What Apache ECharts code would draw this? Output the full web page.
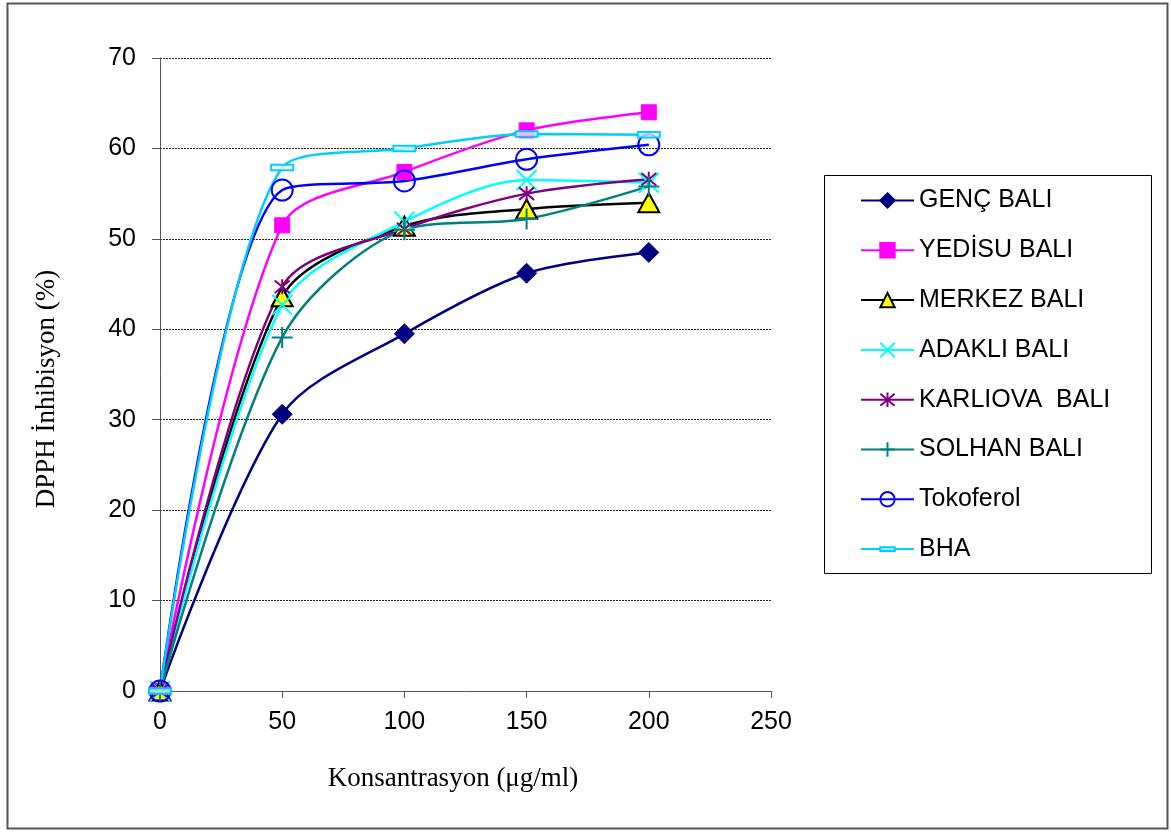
<!DOCTYPE html>
<html>
<head>
<meta charset="utf-8">
<script src="https://cdn.jsdelivr.net/npm/echarts@6/dist/echarts.min.js"></script>
<style>
html,body{margin:0;padding:0;background:#fff;}
#chart{width:1171px;height:832px;}
</style>
</head>
<body>
<div id="chart"></div>
<script>
const xValues = [0, 50, 100, 150, 200];
const seriesNames = ['GENÇ BALI', 'YEDİSU BALI', 'MERKEZ BALI', 'ADAKLI BALI', 'KARLIOVA  BALI', 'SOLHAN BALI', 'Tokoferol', 'BHA'];
const gencBali = [0, 30.6, 39.5, 46.2, 48.5];
const yedisuBali = [0, 51.5, 57.4, 62.0, 64.0];
const merkezBali = [0, 43.6, 51.4, 53.3, 54.0];
const adakliBali = [0, 42.7, 51.9, 56.5, 56.2];
const karliovaBali = [0, 44.7, 51.1, 55.0, 56.6];
const solhanBali = [0, 39.1, 51.0, 52.2, 55.8];
const tokoferol = [0, 55.4, 56.4, 58.8, 60.4];
const bha = [0, 57.9, 60.0, 61.6, 61.5];
const xTicks = [0, 50, 100, 150, 200, 250];
const yTicks = [0, 10, 20, 30, 40, 50, 60, 70];
const xTitle = 'Konsantrasyon (μg/ml)';
const yTitle = 'DPPH İnhibisyon (%)';

const allValues = [gencBali, yedisuBali, merkezBali, adakliBali, karliovaBali, solhanBali, tokoferol, bha];
const styles = [
  {line: '#000080', symbol: 'diamond', size: 20, item: {color: '#000080', borderColor: '#000080', borderWidth: 1}},
  {line: '#FF00FF', symbol: 'rect', size: 15, item: {color: '#FF00FF', borderColor: '#FF00FF', borderWidth: 1}},
  {line: '#000000', symbol: 'triangle', size: [21, 19], item: {color: '#FFFF00', borderColor: '#000000', borderWidth: 2}},
  {line: '#00FFFF', symbol: 'path://M0,0L10,10M10,0L0,10', size: 20, item: {color: 'rgba(0,0,0,0)', borderColor: '#00FFFF', borderWidth: 2}},
  {line: '#800080', symbol: 'path://M0,0L10,10M10,0L0,10M5,-1L5,11', size: 15, item: {color: 'rgba(0,0,0,0)', borderColor: '#800080', borderWidth: 2}},
  {line: '#008080', symbol: 'path://M0,5L10,5M5,0L5,10', size: 21, item: {color: 'rgba(0,0,0,0)', borderColor: '#008080', borderWidth: 2}},
  {line: '#0000FF', symbol: 'circle', size: 21, item: {color: 'rgba(0,0,0,0)', borderColor: '#0000FF', borderWidth: 2}},
  {line: '#00CCFF', symbol: 'path://M0,0M0,7.5L20,7.5L20,12.5L0,12.5ZM20,20', size: 22, item: {color: 'rgba(255,255,255,0.7)', borderColor: '#00CCFF', borderWidth: 2}}
];

const series = seriesNames.map((name, i) => ({
  name: name,
  type: 'line',
  smooth: 0.3,
  data: xValues.map((x, j) => [x, allValues[i][j]]),
  symbol: styles[i].symbol,
  symbolSize: styles[i].size,
  showAllSymbol: true,
  lineStyle: {color: styles[i].line, width: 2.5},
  itemStyle: styles[i].item,
  emphasis: {disabled: true},
  animation: false
}));

const chart = echarts.init(document.getElementById('chart'), null, {renderer: 'canvas'});
chart.setOption({
  backgroundColor: '#ffffff',
  animation: false,
  grid: {left: 160, right: 400, top: 58, bottom: 141, containLabel: false},
  xAxis: {
    type: 'value', min: xTicks[0], max: xTicks[xTicks.length - 1], interval: 50,
    axisLine: {show: true, onZero: false, lineStyle: {color: '#555', width: 1}},
    axisTick: {show: true, inside: false, length: 7, lineStyle: {color: '#555'}},
    axisLabel: {margin: 19, fontFamily: 'Liberation Sans', fontSize: 25, color: '#000'},
    splitLine: {show: false}
  },
  yAxis: {
    type: 'value', min: yTicks[0], max: yTicks[yTicks.length - 1], interval: 10,
    axisLine: {show: true, onZero: false, lineStyle: {color: '#555', width: 1}},
    axisTick: {show: true, inside: false, length: 8, lineStyle: {color: '#555'}},
    axisLabel: {margin: 24, fontFamily: 'Liberation Sans', fontSize: 25, color: '#000'},
    splitLine: {show: true, lineStyle: {color: '#222', type: [2, 1], width: 1}}
  },
  legend: {
    orient: 'vertical', left: 860, top: 188, padding: 0,
    itemWidth: 53, itemHeight: 18, itemGap: 24.8,
    data: seriesNames,
    textStyle: {fontFamily: 'Liberation Sans', fontSize: 25, lineHeight: 25, color: '#000'},
    selectedMode: false
  },
  graphic: [
    {type: 'rect', shape: {x: 7.5, y: 3.5, width: 1160, height: 825}, style: {fill: 'none', stroke: '#555', lineWidth: 2}, silent: true, z: -1},
    {type: 'rect', shape: {x: 824.5, y: 175.5, width: 327, height: 398}, style: {fill: 'none', stroke: '#000', lineWidth: 1}, silent: true},
    {type: 'text', x: 453, y: 779, style: {text: xTitle, font: '27px "Liberation Serif"', fill: '#000', textAlign: 'center', textVerticalAlign: 'middle'}, silent: true},
    {type: 'text', x: 47, y: 389, rotation: Math.PI / 2, style: {text: yTitle, font: '27px "Liberation Serif"', fill: '#000', textAlign: 'center', textVerticalAlign: 'middle'}, silent: true}
  ],
  series: series
});
</script>
</body>
</html>
